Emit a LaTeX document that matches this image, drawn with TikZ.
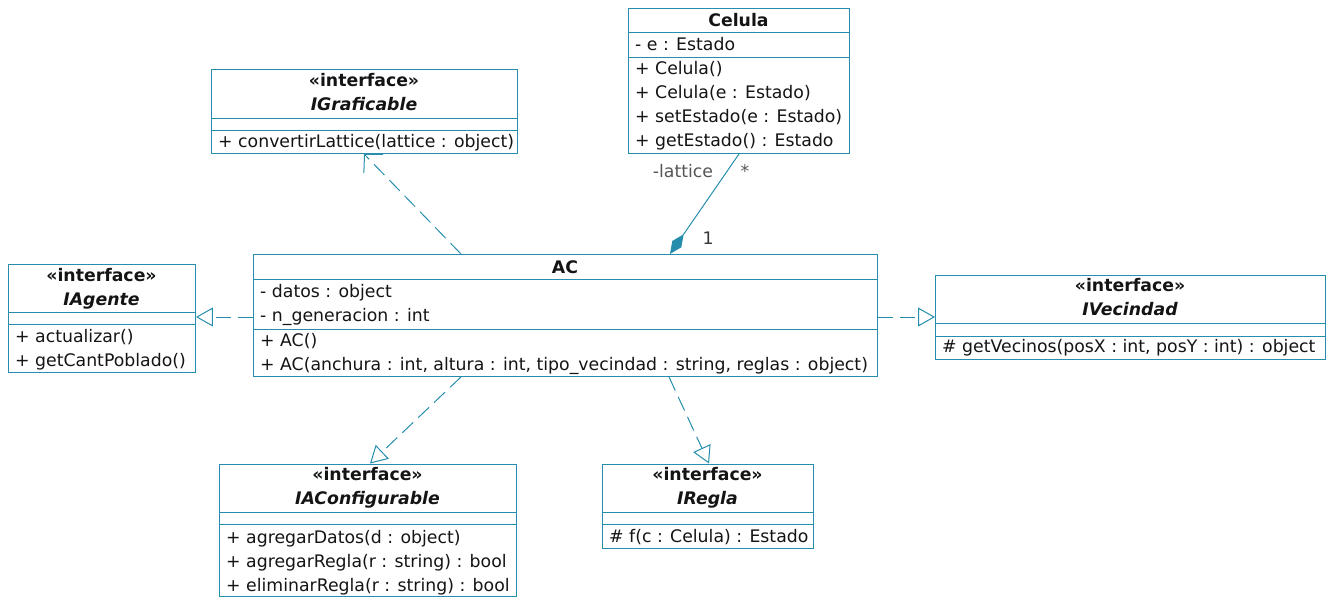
\documentclass[tikz,border=0pt]{standalone}
\usepackage{fontspec}
\setmainfont{DejaVu Sans}
\usetikzlibrary{arrows.meta}
\definecolor{umlteal}{RGB}{38,142,172}
\definecolor{umltext}{RGB}{20,20,20}
\definecolor{umlgrey}{RGB}{85,85,85}
\begin{document}
\begin{tikzpicture}[x=1pt,y=-1pt,
  umlbox/.style={draw=umlteal, line width=0.95pt, inner sep=0pt, anchor=north west},
  sepline/.style={draw=umlteal, line width=0.95pt},
  txt/.style={anchor=base west, inner sep=0pt, text=umltext, font=\fontsize{17.3}{20}\selectfont},
  ttl/.style={anchor=base, inner sep=0pt, text=umltext, font=\fontsize{17.3}{20}\selectfont\bfseries},
  ittl/.style={anchor=base, inner sep=0pt, text=umltext, font=\fontsize{17.3}{20}\selectfont\bfseries\itshape},
  lbl/.style={anchor=base, inner sep=0pt, text=umlgrey, font=\fontsize{17.3}{20}\selectfont},
  realiz/.style={draw=umlteal, line width=1pt, dash pattern=on 15pt off 7pt, -{Triangle[open, length=17pt, width=19pt, line width=1pt]}},
  depend/.style={draw=umlteal, line width=1pt, dash pattern=on 15pt off 7pt, -{Straight Barb[length=13pt, width=27pt, line width=1pt]}},
  compo/.style={draw=umlteal, line width=1pt, {Diamond[fill=umlteal, length=24pt, width=11pt]}-}
]
\useasboundingbox (0,0) rectangle (1329,597);

% ---------- Celula ----------
\node[umlbox, minimum width=221pt, minimum height=145pt] (celula) at (628,8) {};
\draw[sepline] (celula.west |- 0,32) -- (celula.east |- 0,32);
\draw[sepline] (celula.west |- 0,57) -- (celula.east |- 0,57);
\node[ttl] (celula-t) at (738.5,26) {Celula};
\node[txt] (celula-a1) at (635,50) {- e : Estado};
\node[txt] (celula-m1) at (635,74.3) {+ Celula()};
\node[txt] (celula-m2) at (635,98.5) {+ Celula(e : Estado)};
\node[txt] (celula-m3) at (635,122.7) {+ setEstado(e : Estado)};
\node[txt] (celula-m4) at (635,146.8) {+ getEstado() : Estado};

% ---------- IGraficable ----------
\node[umlbox, minimum width=306pt, minimum height=84pt] (igraf) at (211,69) {};
\draw[sepline] (igraf.west |- 0,118) -- (igraf.east |- 0,118);
\draw[sepline] (igraf.west |- 0,130) -- (igraf.east |- 0,130);
\node[ttl] (igraf-s) at (364,86.5) {«interface»};
\node[ittl] (igraf-t) at (364,110.5) {IGraficable};
\node[txt] (igraf-m1) at (218,147.3) {+ convertirLattice(lattice : object)};

% ---------- IAgente ----------
\node[umlbox, minimum width=187pt, minimum height=108pt] (iagente) at (8,264) {};
\draw[sepline] (iagente.west |- 0,312) -- (iagente.east |- 0,312);
\draw[sepline] (iagente.west |- 0,324) -- (iagente.east |- 0,324);
\node[ttl] (iagente-s) at (101.5,281.5) {«interface»};
\node[ittl] (iagente-t) at (101.5,305.5) {IAgente};
\node[txt] (iagente-m1) at (15,342.5) {+ actualizar()};
\node[txt] (iagente-m2) at (15,366.5) {+ getCantPoblado()};

% ---------- AC ----------
\node[umlbox, minimum width=624pt, minimum height=122pt] (ac) at (253,254) {};
\draw[sepline] (ac.west |- 0,279) -- (ac.east |- 0,279);
\draw[sepline] (ac.west |- 0,329) -- (ac.east |- 0,329);
\node[ttl] (ac-t) at (565,273) {AC};
\node[txt] (ac-a1) at (260,297.5) {- datos : object};
\node[txt] (ac-a2) at (260,321.5) {- n\_generacion : int};
\node[txt] (ac-m1) at (260,346) {+ AC()};
\node[txt] (ac-m2) at (260,370.3) {+ AC(anchura : int, altura : int, tipo\_vecindad : string, reglas : object)};

% ---------- IVecindad ----------
\node[umlbox, minimum width=390pt, minimum height=84pt] (ivec) at (935,275) {};
\draw[sepline] (ivec.west |- 0,323) -- (ivec.east |- 0,323);
\draw[sepline] (ivec.west |- 0,336) -- (ivec.east |- 0,336);
\node[ttl] (ivec-s) at (1130,291) {«interface»};
\node[ittl] (ivec-t) at (1130,315) {IVecindad};
\node[txt] (ivec-m1) at (942,352) {\# getVecinos(posX : int, posY : int) : object};

% ---------- IAConfigurable ----------
\node[umlbox, minimum width=297pt, minimum height=132.5pt] (iaconf) at (219,463.5) {};
\draw[sepline] (iaconf.west |- 0,512) -- (iaconf.east |- 0,512);
\draw[sepline] (iaconf.west |- 0,524) -- (iaconf.east |- 0,524);
\node[ttl] (iaconf-s) at (367.5,480.5) {«interface»};
\node[ittl] (iaconf-t) at (367.5,504.5) {IAConfigurable};
\node[txt] (iaconf-m1) at (226,543) {+ agregarDatos(d : object)};
\node[txt] (iaconf-m2) at (226,567.3) {+ agregarRegla(r : string) : bool};
\node[txt] (iaconf-m3) at (226,591.5) {+ eliminarRegla(r : string) : bool};

% ---------- IRegla ----------
\node[umlbox, minimum width=211pt, minimum height=84pt] (iregla) at (602,463.5) {};
\draw[sepline] (iregla.west |- 0,512) -- (iregla.east |- 0,512);
\draw[sepline] (iregla.west |- 0,524) -- (iregla.east |- 0,524);
\node[ttl] (iregla-s) at (707.5,480.5) {«interface»};
\node[ittl] (iregla-t) at (707.5,504.5) {IRegla};
\node[txt] (iregla-m1) at (609,542) {\# f(c : Celula) : Estado};

% ---------- connectors ----------
\draw[depend] (461,0 |- ac.north) -- (364,0 |- igraf.south);
\draw[realiz] (ac.west |- 0,317) -- (iagente.east |- 0,317);
\draw[realiz] (ac.east |- 0,317) -- (ivec.west |- 0,317);
\draw[realiz] (461,0 |- ac.south) -- (370,0 |- iaconf.north);
\draw[realiz] (669,0 |- ac.south) -- (709,0 |- iregla.north);
\draw[compo] (670,0 |- ac.north) -- (739,0 |- celula.south);

\node[lbl] (lattice) at (683,177) {-lattice};
\node[lbl] (many) at (745,177) {*};
\node[lbl, text=umltext!85] (one) at (708,244) {1};
\end{tikzpicture}
\end{document}
